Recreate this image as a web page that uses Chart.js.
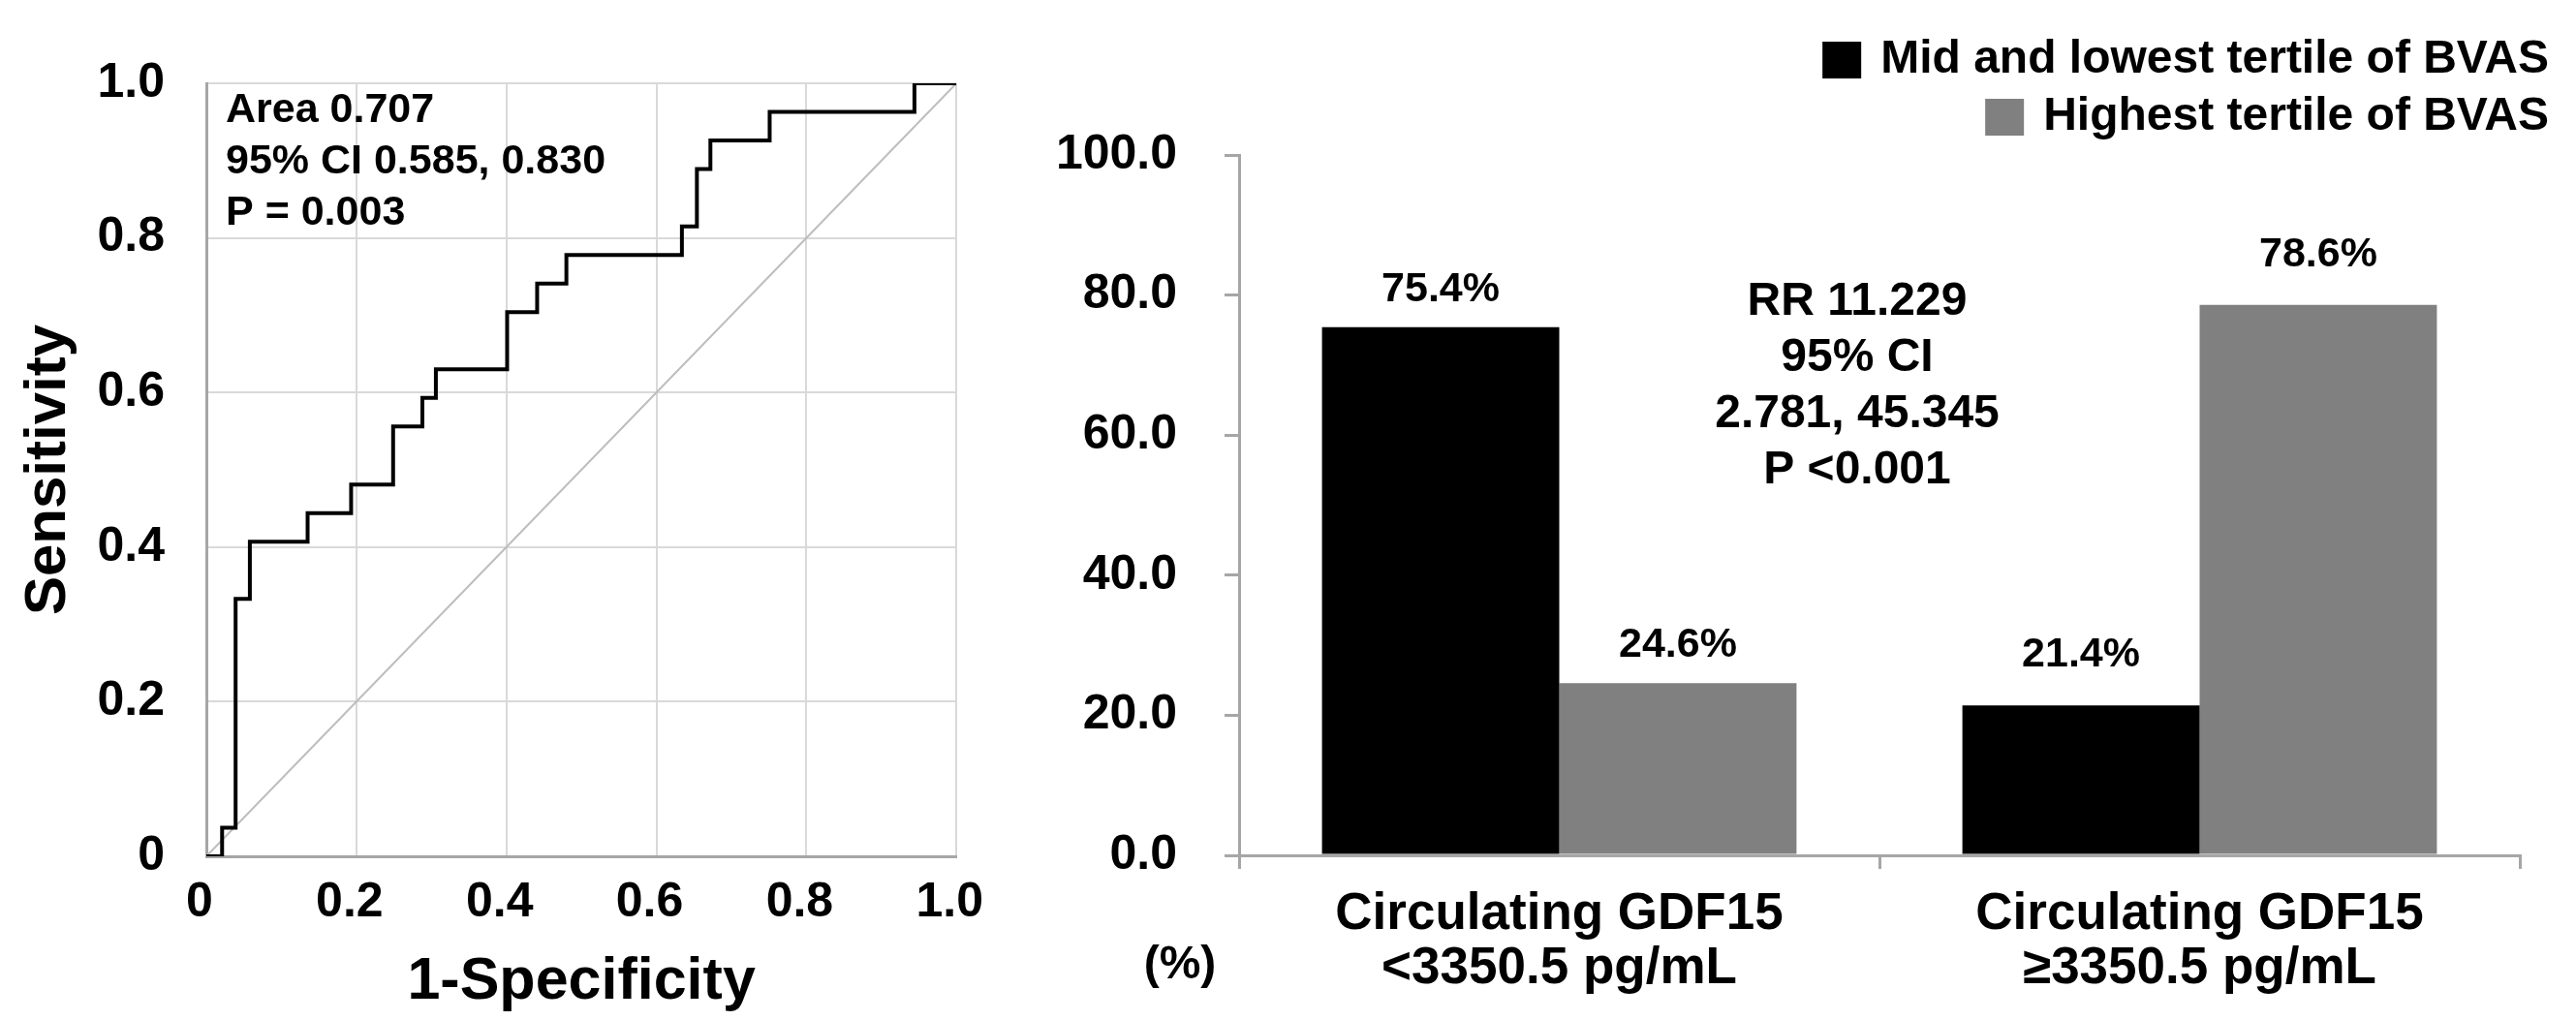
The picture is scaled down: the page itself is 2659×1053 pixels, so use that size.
<!DOCTYPE html>
<html>
<head>
<meta charset="utf-8">
<script src="https://cdn.jsdelivr.net/npm/chart.js@4.4.1/dist/chart.umd.min.js"></script>
<style>
html,body{margin:0;padding:0;background:#fff;}
#wrap{position:relative;width:2659px;height:1053px;background:#fff;}
#roc{position:absolute;left:0;top:0;width:1040px;height:1053px;}
#bar{position:absolute;left:1040px;top:0;width:1619px;height:1053px;}
</style>
</head>
<body>
<div id="wrap">
  <div id="roc"><canvas id="c1"></canvas></div>
  <div id="bar"><canvas id="c2"></canvas></div>
</div>
<script>
// ---------- ROC data ----------
const rocFPR = [0, 0.021, 0.039, 0.058, 0.135, 0.193, 0.249, 0.288, 0.306, 0.401, 0.441, 0.480, 0.634, 0.654, 0.672, 0.751, 0.944, 1.0];
const rocTPR = [0, 0.037, 0.333, 0.407, 0.444, 0.481, 0.556, 0.593, 0.630, 0.704, 0.741, 0.778, 0.815, 0.889, 0.926, 0.963, 1.0, 1.0];
const diagX = [0, 1];
const diagY = [0, 1];
const rocTicks = [0, 0.2, 0.4, 0.6, 0.8, 1.0];
const rocNotes = ['Area 0.707', '95% CI 0.585, 0.830', 'P = 0.003'];
const rocXTitle = '1-Specificity';
const rocYTitle = 'Sensitivity';

// ---------- Bar data ----------
const categories = [['Circulating GDF15', '<3350.5 pg/mL'], ['Circulating GDF15', '\u22653350.5 pg/mL']];
const seriesNames = ['Mid and lowest tertile of BVAS', 'Highest tertile of BVAS'];
const midLowValues = [75.4, 21.4];
const highestValues = [24.6, 78.6];
const barTicks = [0, 20, 40, 60, 80, 100];
const rrNotes = ['RR 11.229', '95% CI', '2.781, 45.345', 'P <0.001'];
const unitLabel = '(%)';

const FONT = '"Liberation Sans", Arial, Helvetica, sans-serif';
Chart.defaults.font.family = FONT;
Chart.defaults.font.weight = 'bold';
Chart.defaults.color = '#000';

const fmtRoc = v => (v === 0 ? '0' : Number(v).toFixed(1));

const rocNotesPlugin = {
  id: 'rocNotes',
  afterDraw(chart) {
    const ctx = chart.ctx, a = chart.chartArea;
    ctx.save();
    ctx.font = 'bold 43px ' + FONT;
    ctx.fillStyle = '#000';
    ctx.textAlign = 'left';
    ctx.textBaseline = 'middle';
    rocNotes.forEach((t, i) => ctx.fillText(t, a.left + 20, a.top + 28 + i * 53));
    ctx.restore();
  }
};

new Chart(document.getElementById('c1'), {
  type: 'scatter',
  data: {
    datasets: [
      {
        label: 'ROC',
        data: rocFPR.map((x, i) => ({ x: x, y: rocTPR[i] })),
        showLine: true, stepped: true,
        borderColor: '#000', borderWidth: 4,
        pointRadius: 0, fill: false, order: 1
      },
      {
        label: 'Reference',
        data: diagX.map((x, i) => ({ x: x, y: diagY[i] })),
        showLine: true,
        borderColor: '#bdbdbd', borderWidth: 2,
        pointRadius: 0, fill: false, order: 2
      }
    ]
  },
  options: {
    responsive: true, maintainAspectRatio: false, animation: false,
    devicePixelRatio: 1,
    layout: { padding: { top: 86, right: 27, bottom: 0, left: 0 } },
    plugins: { legend: { display: false }, tooltip: { enabled: false } },
    scales: {
      x: {
        type: 'linear', min: 0, max: 1,
        afterBuildTicks: s => { s.ticks = rocTicks.map(v => ({ value: v })); },
        afterFit: s => { s.height = 169; },
        ticks: { callback: fmtRoc, font: { size: 50, weight: 'bold' }, color: '#000', padding: 18, labelOffset: -7, maxRotation: 0, autoSkip: false },
        grid: { color: '#d9d9d9', lineWidth: 2, drawTicks: false },
        border: { color: '#a6a6a6', width: 3 },
        title: { display: true, text: rocXTitle, color: '#000', font: { size: 61, weight: 'bold' }, padding: { top: 0, bottom: 2 } }
      },
      y: {
        type: 'linear', min: 0, max: 1,
        afterBuildTicks: s => { s.ticks = rocTicks.map(v => ({ value: v })); },
        afterFit: s => { s.width = 213; },
        ticks: { callback: fmtRoc, font: { size: 50, weight: 'bold' }, color: '#000', padding: 43, autoSkip: false },
        grid: { color: '#d9d9d9', lineWidth: 2, drawTicks: false },
        border: { color: '#a6a6a6', width: 3 },
        title: { display: true, text: rocYTitle, color: '#000', font: { size: 60, weight: 'bold' }, padding: { top: 14, bottom: 0 } }
      }
    }
  },
  plugins: [rocNotesPlugin]
});

// ---------- bar chart plugins ----------
const labelGaps = [39, 52];
const barExtras = {
  id: 'barExtras',
  afterDatasetsDraw(chart) {
    const ctx = chart.ctx;
    ctx.save();
    ctx.fillStyle = '#000';
    ctx.textAlign = 'center';
    ctx.textBaseline = 'middle';
    ctx.font = 'bold 43px ' + FONT;
    chart.data.datasets.forEach((ds, di) => {
      const meta = chart.getDatasetMeta(di);
      meta.data.forEach((bar, i) => {
        ctx.fillText(ds.data[i].toFixed(1) + '%', bar.x, bar.y - labelGaps[i]);
      });
    });
    ctx.restore();
  },
  afterDraw(chart) {
    const ctx = chart.ctx, a = chart.chartArea;
    const xs = chart.scales.x, ys = chart.scales.y;
    ctx.save();
    ctx.fillStyle = '#000';
    // RR annotation
    ctx.textAlign = 'center';
    ctx.textBaseline = 'middle';
    ctx.font = 'bold 48px ' + FONT;
    const cx = xs.getPixelForValue(0.5) - 23;
    const y0 = ys.getPixelForValue(79);
    rrNotes.forEach((t, i) => ctx.fillText(t, cx, y0 + i * 58));
    // unit label
    ctx.font = 'bold 48px ' + FONT;
    ctx.fillText(unitLabel, a.left - 61, a.bottom + 114);
    // legend (stacked, right aligned)
    ctx.font = 'bold 48px ' + FONT;
    ctx.textAlign = 'right';
    const right = chart.width - 28;
    const lineY = [62, 121];
    chart.data.datasets.forEach((ds, i) => {
      const w = ctx.measureText(ds.label).width;
      ctx.fillStyle = '#000';
      ctx.fillText(ds.label, right, lineY[i]);
      ctx.fillStyle = ds.backgroundColor;
      ctx.fillRect(right - w - 20 - 40, lineY[i] - 19, 40, 38);
    });
    ctx.restore();
  }
};

new Chart(document.getElementById('c2'), {
  type: 'bar',
  data: {
    labels: categories,
    datasets: [
      { label: seriesNames[0], data: midLowValues, backgroundColor: '#000000', barPercentage: 1, categoryPercentage: 0.741 },
      { label: seriesNames[1], data: highestValues, backgroundColor: '#808080', barPercentage: 1, categoryPercentage: 0.741 }
    ]
  },
  options: {
    responsive: true, maintainAspectRatio: false, animation: false,
    devicePixelRatio: 1,
    layout: { padding: { top: 160, right: 58, bottom: 0, left: 0 } },
    plugins: { legend: { display: false }, tooltip: { enabled: false } },
    scales: {
      x: {
        offset: true,
        afterFit: s => { s.height = 170; },
        grid: { offset: true, drawOnChartArea: false, tickLength: 14, color: '#a6a6a6', lineWidth: 3 },
        border: { color: '#a6a6a6', width: 3 },
        ticks: { font: { size: 53, weight: 'bold', lineHeight: 1.06 }, color: '#000', padding: 19, maxRotation: 0, autoSkip: false }
      },
      y: {
        min: 0, max: 100,
        afterBuildTicks: s => { s.ticks = barTicks.map(v => ({ value: v })); },
        afterFit: s => { s.width = 239; },
        grid: { drawOnChartArea: false, tickLength: 15, color: '#a6a6a6', lineWidth: 3 },
        border: { color: '#a6a6a6', width: 3 },
        ticks: { callback: v => Number(v).toFixed(1), font: { size: 50, weight: 'bold' }, color: '#000', padding: 49, autoSkip: false }
      }
    }
  },
  plugins: [barExtras]
});
</script>
</body>
</html>
